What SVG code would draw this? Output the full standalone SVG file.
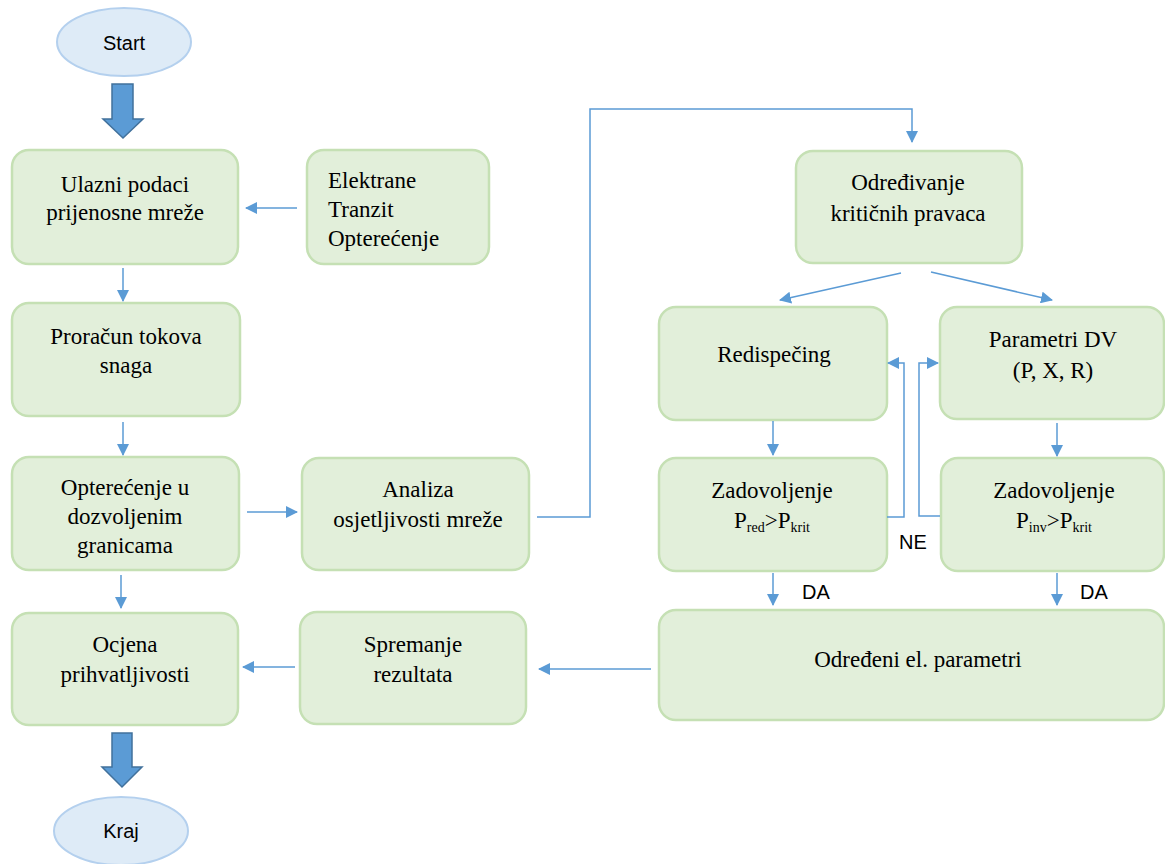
<svg xmlns="http://www.w3.org/2000/svg" width="1165" height="864" viewBox="0 0 1165 864">
<style>
.box{fill:#e2efda;stroke:#c5e0b4;stroke-width:2.5}
.ell{fill:#deebf7;stroke:#b4d0ee;stroke-width:2}
.blk{fill:#5b9bd5;stroke:#41719c;stroke-width:1.5}
.t{font-family:'Liberation Serif','DejaVu Serif','Times New Roman',serif;font-size:23px;fill:#000;text-anchor:middle}
.tl{font-family:'Liberation Serif','DejaVu Serif','Times New Roman',serif;font-size:23px;fill:#000}
.s{font-family:'Liberation Sans',Arial,sans-serif;font-size:20px;fill:#000}
.sub{font-size:14px}
.c{fill:none;stroke:#5b9bd5;stroke-width:1.5}
</style>
<defs>
<marker id="ah" markerUnits="userSpaceOnUse" markerWidth="12" markerHeight="12" viewBox="0 0 12 12" refX="11" refY="6" orient="auto">
<path d="M0,0 L12,6 L0,12 Z" fill="#5b9bd5"/>
</marker>
</defs>
<g id="start">
<ellipse class="ell" cx="124" cy="42" rx="67" ry="34"/>
<text class="s" x="124" y="50" text-anchor="middle" font-size="22">Start</text>
</g>
<g id="arrow-start"><path class="blk" d="M112,84 H133 V119 H143 L123,138 L103,119 H112 Z"/></g>
<g id="ulazni">
<rect class="box" x="12" y="150" width="226" height="114" rx="17"/>
<text class="t" x="125" y="192">Ulazni podaci</text>
<text class="t" x="125" y="220">prijenosne mreže</text>
</g>
<g id="elektrane">
<rect class="box" x="307" y="150" width="182" height="114" rx="17"/>
<text class="tl" x="328" y="188">Elektrane</text>
<text class="tl" x="328" y="217">Tranzit</text>
<text class="tl" x="328" y="246">Opterećenje</text>
</g>
<g id="proracun">
<rect class="box" x="12" y="303" width="228" height="113" rx="17"/>
<text class="t" x="126" y="344">Proračun tokova</text>
<text class="t" x="126" y="373">snaga</text>
</g>
<g id="opterecenje">
<rect class="box" x="12" y="457" width="227" height="113" rx="17"/>
<text class="t" x="125" y="495">Opterećenje u</text>
<text class="t" x="125" y="524">dozvoljenim</text>
<text class="t" x="125" y="553">granicama</text>
</g>
<g id="analiza">
<rect class="box" x="302" y="458" width="227" height="112" rx="17"/>
<text class="t" x="418" y="497">Analiza</text>
<text class="t" x="418" y="527">osjetljivosti mreže</text>
</g>
<g id="ocjena">
<rect class="box" x="12" y="613" width="226" height="112" rx="17"/>
<text class="t" x="125" y="652">Ocjena</text>
<text class="t" x="125" y="682">prihvatljivosti</text>
</g>
<g id="spremanje">
<rect class="box" x="300" y="612" width="226" height="112" rx="17"/>
<text class="t" x="413" y="652">Spremanje</text>
<text class="t" x="413" y="682">rezultata</text>
</g>
<g id="arrow-kraj"><path class="blk" d="M112,733 H132 V767 H142 L122,787 L102,767 H112 Z"/></g>
<g id="kraj">
<ellipse class="ell" cx="121" cy="831" rx="67" ry="34"/>
<text class="s" x="121" y="838" text-anchor="middle" font-size="21">Kraj</text>
</g>
<g id="odredjivanje">
<rect class="box" x="796" y="151" width="226" height="112" rx="17"/>
<text class="t" x="908" y="190">Određivanje</text>
<text class="t" x="908" y="221">kritičnih pravaca</text>
</g>
<g id="redispecing">
<rect class="box" x="659" y="307" width="228" height="113" rx="17"/>
<text class="t" x="774" y="362">Redispečing</text>
</g>
<g id="parametri">
<rect class="box" x="940" y="307" width="224" height="112" rx="17"/>
<text class="t" x="1053" y="347">Parametri DV</text>
<text class="t" x="1053" y="378">(P, X, R)</text>
</g>
<g id="zad-red">
<rect class="box" x="659" y="458" width="228" height="113" rx="17"/>
<text class="t" x="772" y="498">Zadovoljenje</text>
<text class="t" x="772" y="528">P<tspan class="sub" dy="4">red</tspan><tspan dy="-4">&gt;P</tspan><tspan class="sub" dy="4">krit</tspan></text>
</g>
<g id="zad-inv">
<rect class="box" x="941" y="458" width="223" height="113" rx="17"/>
<text class="t" x="1054" y="498">Zadovoljenje</text>
<text class="t" x="1054" y="528">P<tspan class="sub" dy="4">inv</tspan><tspan dy="-4">&gt;P</tspan><tspan class="sub" dy="4">krit</tspan></text>
</g>
<g id="odredjeni">
<rect class="box" x="659" y="610" width="505" height="110" rx="17"/>
<text class="t" x="918" y="667">Određeni el. parametri</text>
</g>
<g id="connectors">
<path class="c" marker-end="url(#ah)" d="M297,208 H246"/>
<path class="c" marker-end="url(#ah)" d="M123,268 V301"/>
<path class="c" marker-end="url(#ah)" d="M123,422 V455"/>
<path class="c" marker-end="url(#ah)" d="M247,512 H297"/>
<path class="c" marker-end="url(#ah)" d="M537,517 H590 V109 H912 V142"/>
<path class="c" marker-end="url(#ah)" d="M901,273 L780,300"/>
<path class="c" marker-end="url(#ah)" d="M931,272 L1052,300"/>
<path class="c" marker-end="url(#ah)" d="M773,421 V455"/>
<path class="c" marker-end="url(#ah)" d="M1057,423 V456"/>
<path class="c" marker-end="url(#ah)" d="M887,517 H904 V363 H888"/>
<path class="c" marker-end="url(#ah)" d="M940,516 H919 V363 H938"/>
<path class="c" marker-end="url(#ah)" d="M773,573 V605"/>
<path class="c" marker-end="url(#ah)" d="M1057,573 V605"/>
<path class="c" marker-end="url(#ah)" d="M651,669 H539"/>
<path class="c" marker-end="url(#ah)" d="M295,667 H243"/>
<path class="c" marker-end="url(#ah)" d="M121,575 V608"/>
<text class="s" x="899" y="549">NE</text>
<text class="s" x="802" y="599">DA</text>
<text class="s" x="1080" y="599">DA</text>
</g>
</svg>
